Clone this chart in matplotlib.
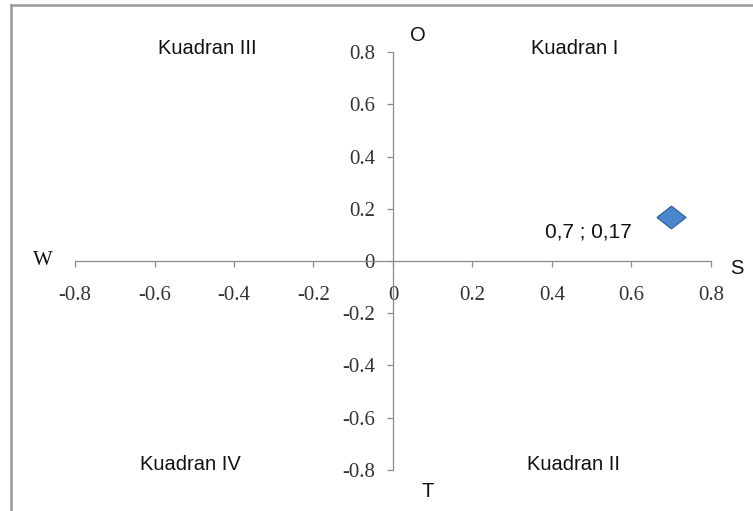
import matplotlib
matplotlib.use("Agg")
import matplotlib.pyplot as plt
from matplotlib.lines import Line2D

# data
point_x = [0.7]
point_y = [0.17]
point_label = "0,7 ; 0,17"
ticks = [-0.8, -0.6, -0.4, -0.2, 0, 0.2, 0.4, 0.6, 0.8]
tick_labels = ["-0.8", "-0.6", "-0.4", "-0.2", "0", "0.2", "0.4", "0.6", "0.8"]
quadrants = ["Kuadran I", "Kuadran II", "Kuadran III", "Kuadran IV"]
quad_x = [0.458, 0.455, -0.468, -0.51]
quad_y = [0.813, -0.78, 0.813, -0.78]

SERIF = "Liberation Serif"
SANS = "Liberation Sans"
GRAY = "#8c8c8c"

fig = plt.figure(figsize=(7.53, 5.11), dpi=100)
ax = fig.add_axes([0, 0, 1, 1])
ax.set_xlim(-0.9887, 0.9057)
ax.set_ylim(-0.958, 1.0)
ax.patch.set_alpha(0)

# axes crossing at origin
for side in ("top", "right"):
    ax.spines[side].set_visible(False)
ax.spines["left"].set_position(("data", 0))
ax.spines["bottom"].set_position(("data", 0))
ax.spines["left"].set_bounds(-0.8, 0.8)
ax.spines["bottom"].set_bounds(-0.8, 0.8)
for side in ("left", "bottom"):
    ax.spines[side].set_color(GRAY)
    ax.spines[side].set_linewidth(0.9)

ax.set_xticks(ticks)
ax.set_xticklabels(tick_labels)
ax.set_yticks(ticks)
ax.set_yticklabels(tick_labels)
ax.tick_params(axis="both", direction="out", length=4, width=0.9, color=GRAY,
               labelcolor="#333333", labelsize=15)
ax.tick_params(axis="x", pad=14)
ax.tick_params(axis="y", pad=9)
for lab in ax.get_xticklabels() + ax.get_yticklabels():
    lab.set_fontfamily(SERIF)

# wide diamond marker
diamond = [(-1, 0), (0, 0.78), (1, 0), (0, -0.78), (-1, 0)]
ax.plot(point_x, point_y, linestyle="none", marker=diamond, markersize=21,
        markerfacecolor="#4a86cc", markeredgecolor="#2f5f98", markeredgewidth=0.8,
        zorder=5)
ax.annotate(point_label, (point_x[0], point_y[0]), xytext=(-60, -11),
            textcoords="offset points", ha="center", va="center",
            fontsize=15, family=SANS, color="#111111")

for name, qx, qy in zip(quadrants, quad_x, quad_y):
    ax.text(qx, qy, name, ha="center", va="center", fontsize=14.5,
            family=SANS, color="#111111")

# direction letters
ax.text(0.063, 0.863, "O", ha="center", va="center", fontsize=14.5, family=SANS, color="#111111")
ax.text(0.088, -0.883, "T", ha="center", va="center", fontsize=14.5, family=SANS, color="#111111")
ax.text(0.865, -0.03, "S", ha="center", va="center", fontsize=14.5, family=SANS, color="#111111")
ax.text(-0.88, 0.0, "W", ha="center", va="center", fontsize=15, family=SERIF, color="#111111")

# outer chart frame (left and top edges visible)
W, H = 753, 511
fig.add_artist(Line2D([11 / W, 11 / W], [0, 1 - 5 / H], transform=fig.transFigure,
                      color="#9a9a9a", linewidth=1.8))
fig.add_artist(Line2D([11 / W, 1], [1 - 5 / H, 1 - 5 / H], transform=fig.transFigure,
                      color="#9a9a9a", linewidth=1.8))

fig.savefig("out.png", dpi=100)
